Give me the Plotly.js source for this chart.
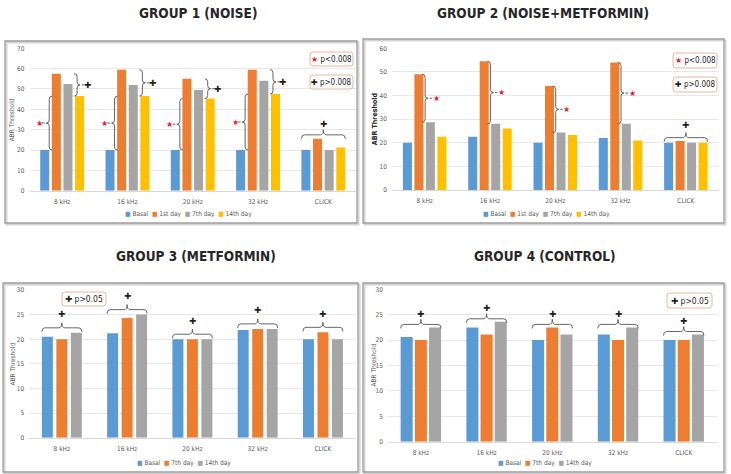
<!DOCTYPE html>
<html>
<head>
<meta charset="utf-8">
<script src="https://cdn.plot.ly/plotly-3.0.1.min.js"></script>
<style>
  html, body { margin: 0; padding: 0; background: #ffffff; }
  #chart { width: 731px; height: 474px; }
</style>
</head>
<body>
<div id="chart"></div>
<script>
// ABR thresholds by stimulus frequency, four experimental groups
const categories = ['8 kHz', '16 kHz', '20 kHz', '32 kHz', 'CLICK'];

// Group 1 (noise)
const g1Basal = [20, 20, 20, 20, 20];
const g1Day1  = [57.5, 59.5, 55, 59.5, 25.5];
const g1Day7  = [52.5, 52, 49.5, 54, 20];
const g1Day14 = [46.5, 46.5, 45.3, 47.5, 21.2];

// Group 2 (noise + metformin)
const g2Basal = [20, 22.5, 20, 22, 20];
const g2Day1  = [49, 54.5, 44, 54, 20.7];
const g2Day7  = [28.7, 28, 24.3, 28, 20];
const g2Day14 = [22.5, 26, 23.3, 21, 20];

// Group 3 (metformin)
const g3Basal = [20.5, 21.2, 20, 21.9, 20];
const g3Day7  = [20, 24.3, 20, 22.1, 21.4];
const g3Day14 = [21.3, 25, 20, 22.1, 20];

// Group 4 (control)
const g4Basal = [20.6, 22.5, 20, 21.1, 20];
const g4Day7  = [20, 21.1, 22.5, 20, 20];
const g4Day14 = [22.5, 23.6, 21.1, 22.5, 21.1];

const seriesNames4 = ['Basal', '1st day', '7th day', '14th day'];
const seriesNames3 = ['Basal', '7th day', '14th day'];

const BLUE = '#5b9bd5', ORANGE = '#ed7d31', GRAY = '#a5a5a5', GOLD = '#ffc000';
const RED = '#e3262b', INK = '#1e1e1e';
const NARROW = '"DejaVu Sans Condensed", "Liberation Sans Narrow", sans-serif';
const SYMF = '"DejaVu Sans", sans-serif';

const W = 731, H = 474;
const P = (x, y) => (x / W) + ',' + (1 - y / H);

const idx = categories.map((_, i) => i);

const panels = [
  { title: 'GROUP 1 (NOISE)', titleX: 198, titleY: 13, frame: [5, 41, 357, 223],
    plotX: [29.5, 356], plotY: [48.3, 190.7], yMax: 70, dtick: 10, slot: 0.178, barW: 0.138,
    series: [g1Basal, g1Day1, g1Day7, g1Day14], names: seriesNames4,
    colors: [BLUE, ORANGE, GRAY, GOLD], legendX: 188, legendY: 214, yTitleX: 12.7, yTitleBold: false,
    hLine: 4, hPlus: 15 },
  { title: 'GROUP 2 (NOISE+METFORMIN)', titleX: 543, titleY: 13, frame: [363, 39, 724, 223],
    plotX: [392, 718.5], plotY: [48.3, 190], yMax: 60, dtick: 10, slot: 0.176, barW: 0.138,
    series: [g2Basal, g2Day1, g2Day7, g2Day14], names: seriesNames4,
    colors: [BLUE, ORANGE, GRAY, GOLD], legendX: 546, legendY: 214, yTitleX: 375, yTitleBold: true,
    hLine: 3.5, hPlus: 16 },
  { title: 'GROUP 3 (METFORMIN)', titleX: 196, titleY: 256, frame: [3, 283, 358, 472],
    plotX: [29.2, 355.6], plotY: [290, 437.7], yMax: 30, dtick: 5, slot: 0.222, barW: 0.168,
    series: [g3Basal, g3Day7, g3Day14], names: seriesNames3,
    colors: [BLUE, ORANGE, GRAY], legendX: 184, legendY: 463, yTitleX: 12.7, yTitleBold: false,
    hLine: 5, hPlus: 18.5 },
  { title: 'GROUP 4 (CONTROL)', titleX: 545, titleY: 256, frame: [363, 283, 724, 472],
    plotX: [388, 716.6], plotY: [289.3, 441.7], yMax: 30, dtick: 5, slot: 0.216, barW: 0.183,
    series: [g4Basal, g4Day7, g4Day14], names: seriesNames3,
    colors: [BLUE, ORANGE, GRAY], legendX: 545, legendY: 463, yTitleX: 373, yTitleBold: false,
    hLine: 3, hPlus: 13.5 }
];

const traces = [];
const shapes = [];
const annotations = [];
const layout = {
  width: W, height: H, autosize: false,
  margin: { l: 0, r: 0, t: 0, b: 0 },
  paper_bgcolor: '#ffffff', plot_bgcolor: 'rgba(0,0,0,0)',
  barmode: 'overlay', showlegend: false,
  font: { family: NARROW, color: '#595959', size: 6.5 }
};

panels.forEach((pn, k) => {
  const n = k + 1;
  const xa = n === 1 ? 'x' : 'x' + n;
  const ya = n === 1 ? 'y' : 'y' + n;
  const ux = (pn.plotX[1] - pn.plotX[0]) / categories.length;   // px per category
  const uy = (pn.plotY[1] - pn.plotY[0]) / pn.yMax;              // px per value unit
  const nS = pn.series.length;
  const barLeft = i => -nS * pn.slot / 2 + i * pn.slot + (pn.slot - pn.barW) / 2;
  const barRight = i => barLeft(i) + pn.barW;

  layout['xaxis' + (n === 1 ? '' : n)] = {
    domain: [pn.plotX[0] / W, pn.plotX[1] / W], anchor: ya,
    range: [-0.5, categories.length - 0.5], tickvals: idx, ticktext: categories,
    showgrid: false, zeroline: false, showline: true, linecolor: '#d9d9d9', linewidth: 1,
    ticks: '', ticklabelstandoff: 4, tickfont: { family: NARROW, size: 6.5, color: '#595959' },
    fixedrange: true
  };
  layout['yaxis' + (n === 1 ? '' : n)] = {
    domain: [1 - pn.plotY[1] / H, 1 - pn.plotY[0] / H], anchor: xa,
    range: [0, pn.yMax], dtick: pn.dtick, tick0: 0,
    showgrid: true, gridcolor: '#e2e2e2', gridwidth: 0.8, zeroline: false, showline: false,
    ticks: '', ticklabelstandoff: 4, tickfont: { family: NARROW, size: 6.5, color: '#595959' },
    fixedrange: true
  };

  // bars
  pn.series.forEach((vals, i) => {
    traces.push({
      type: 'bar', x: idx, y: vals, name: pn.names[i], xaxis: xa, yaxis: ya,
      width: pn.barW, offset: barLeft(i),
      marker: { color: pn.colors[i], line: { width: 0 } },
      hoverinfo: 'skip'
    });
  });

  // panel frame with soft shadow
  const [fx0, fy0, fx1, fy1] = pn.frame;
  shapes.push({ type: 'rect', xref: 'paper', yref: 'paper', x0: (fx0 + 1.5) / W, x1: (fx1 + 1.5) / W,
    y0: 1 - (fy1 + 1.5) / H, y1: 1 - (fy0 + 1.5) / H, line: { color: '#d4d4d4', width: 2 }, layer: 'below' });
  shapes.push({ type: 'rect', xref: 'paper', yref: 'paper', x0: fx0 / W, x1: fx1 / W,
    y0: 1 - fy1 / H, y1: 1 - fy0 / H, line: { color: '#9c9c9c', width: 1.3 }, layer: 'below' });

  // panel title
  annotations.push({ xref: 'paper', yref: 'paper', x: pn.titleX / W, y: 1 - pn.titleY / H,
    text: pn.title, showarrow: false, xanchor: 'center', yanchor: 'middle',
    font: { family: NARROW, size: 13.5, color: '#262626', weight: 700 } });

  // y-axis title
  annotations.push({ xref: 'paper', yref: 'paper', x: pn.yTitleX / W, y: 1 - (pn.plotY[0] + pn.plotY[1]) / 2 / H,
    text: pn.yTitleBold ? '<b>ABR Threshold</b>' : 'ABR Threshold', textangle: -90, showarrow: false,
    xanchor: 'center', yanchor: 'middle',
    font: { family: NARROW, size: pn.yTitleBold ? 7 : 6.5, color: pn.yTitleBold ? '#262626' : '#595959' } });

  // legend row
  const legText = pn.names.map((nm, i) =>
    '<span style="color:' + pn.colors[i] + '">■</span> ' + nm).join('  ');
  annotations.push({ xref: 'paper', yref: 'paper', x: pn.legendX / W, y: 1 - pn.legendY / H,
    text: legText, showarrow: false, xanchor: 'center', yanchor: 'middle',
    font: { family: NARROW, size: 6.5, color: '#595959' } });

  // helpers for significance braces (sizes given in px, converted to data units)
  const dx = v => v / ux, dy = v => v / uy;
  const vBrace = (xc, y0, y1, dir) => {
    const w = dx(3), r = dy(3), ym = (y0 + y1) / 2;
    const path = 'M' + (xc - dir * w) + ',' + y0 +
      ' Q' + xc + ',' + y0 + ' ' + xc + ',' + (y0 + r) +
      ' L' + xc + ',' + (ym - r) +
      ' Q' + xc + ',' + ym + ' ' + (xc + dir * w) + ',' + ym +
      ' Q' + xc + ',' + ym + ' ' + xc + ',' + (ym + r) +
      ' L' + xc + ',' + (y1 - r) +
      ' Q' + xc + ',' + y1 + ' ' + (xc - dir * w) + ',' + y1;
    shapes.push({ type: 'path', xref: xa, yref: ya, path: path, line: { color: '#555555', width: 0.9 } });
    shapes.push({ type: 'line', xref: xa, yref: ya, x0: xc + dir * dx(4.5), x1: xc + dir * dx(7),
      y0: ym, y1: ym, line: { color: '#555555', width: 0.9 } });
    return ym;
  };
  const hBrace = (x0, x1, y) => {
    const w = dx(3), dEnd = dy(4), dMid = dy(5), xm = (x0 + x1) / 2;
    const path = 'M' + x0 + ',' + (y - dEnd) +
      ' Q' + x0 + ',' + y + ' ' + (x0 + w) + ',' + y +
      ' L' + (xm - w) + ',' + y +
      ' Q' + xm + ',' + y + ' ' + xm + ',' + (y + dMid) +
      ' Q' + xm + ',' + y + ' ' + (xm + w) + ',' + y +
      ' L' + (x1 - w) + ',' + y +
      ' Q' + x1 + ',' + y + ' ' + x1 + ',' + (y - dEnd);
    shapes.push({ type: 'path', xref: xa, yref: ya, path: path, line: { color: '#555555', width: 0.9 } });
  };
  const mark = (x, y, sym, color, size) => annotations.push({ xref: xa, yref: ya, x: x, y: y, text: sym,
    showarrow: false, xanchor: 'center', yanchor: 'middle', font: { family: SYMF, size: size, color: color } });
  const groupBrace = c => {
    const top = Math.max(...pn.series.map(s => s[c]));
    const yl = top + dy(pn.hLine);
    hBrace(c + barLeft(0), c + barRight(nS - 1), yl);
    mark(c, top + dy(pn.hPlus), '✚', INK, 8.5);
  };

  if (k === 0) {
    for (let c = 0; c < 4; c++) {
      const xs = c + barRight(0);
      const ymS = vBrace(xs, g1Basal[c], g1Day14[c], -1);
      mark(xs - dx(10), ymS, '★', RED, 8);
      const xp = c + barLeft(3) + dx(2);
      const ymP = vBrace(xp, g1Day14[c], g1Day1[c], 1);
      mark(xp + dx(10), ymP, '✚', INK, 8.5);
    }
    groupBrace(4);
  } else if (k === 1) {
    for (let c = 0; c < 4; c++) {
      const xs = c + barRight(1) + dx(1.7);
      const ymS = vBrace(xs, g2Day7[c], g2Day1[c], 1);
      mark(xs + dx(11), ymS, '★', RED, 8);
    }
    groupBrace(4);
  } else {
    for (let c = 0; c < categories.length; c++) groupBrace(c);
  }
});

// significance key boxes (rounded)
function keyBox(x0, y0, x1, y1, html, size) {
  const r = 3;
  const path = 'M' + P(x0 + r, y0) + ' L' + P(x1 - r, y0) + ' Q' + P(x1, y0) + ' ' + P(x1, y0 + r) +
    ' L' + P(x1, y1 - r) + ' Q' + P(x1, y1) + ' ' + P(x1 - r, y1) +
    ' L' + P(x0 + r, y1) + ' Q' + P(x0, y1) + ' ' + P(x0, y1 - r) +
    ' L' + P(x0, y0 + r) + ' Q' + P(x0, y0) + ' ' + P(x0 + r, y0) + ' Z';
  shapes.push({ type: 'path', xref: 'paper', yref: 'paper', path: path,
    line: { color: '#eab69a', width: 1 }, fillcolor: '#ffffff' });
  annotations.push({ xref: 'paper', yref: 'paper', x: (x0 + x1) / 2 / W, y: 1 - (y0 + y1) / 2 / H,
    text: html, showarrow: false, xanchor: 'center', yanchor: 'middle',
    font: { family: NARROW, size: size, color: '#1e1e1e' } });
}
const starKey = '<span style="color:' + RED + ';font-family:DejaVu Sans">★</span> p&lt;0.008';
const plusKey8 = '<span style="font-family:DejaVu Sans">✚</span> p&gt;0.008';
const plusKey5 = '<span style="font-family:DejaVu Sans">✚</span> p&gt;0.05';
keyBox(310, 52, 353, 66, starKey, 8);
keyBox(310, 75, 353, 89, plusKey8, 8);
keyBox(673, 53, 717, 68, starKey, 8);
keyBox(673, 77, 717, 92, plusKey8, 8);
keyBox(62, 292, 106, 306, plusKey5, 8.5);
keyBox(667, 293, 712, 308, plusKey5, 8.5);

layout.shapes = shapes;
layout.annotations = annotations;

Plotly.newPlot('chart', traces, layout, { staticPlot: true, displayModeBar: false });
</script>
</body>
</html>
